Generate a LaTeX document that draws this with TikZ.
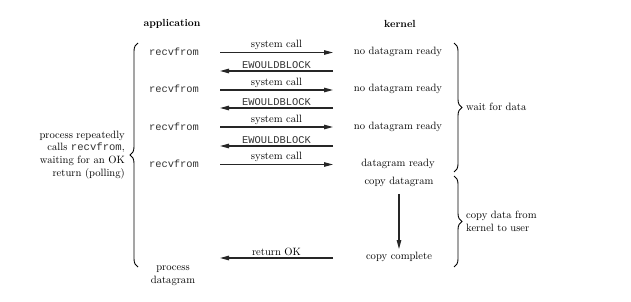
\documentclass[tikz,border=0pt]{standalone}
\usepackage{fontspec}
\setmonofont{Liberation Mono}
\usetikzlibrary{decorations.pathreplacing,arrows.meta}
\begin{document}
\begin{tikzpicture}[x=1pt,y=-1pt,
  txt/.style={font=\fontsize{10.6}{12.8}\selectfont, inner sep=0pt},
  hdr/.style={font=\fontsize{10.3}{12}\selectfont\bfseries, inner sep=0pt},
  code/.style={font=\fontsize{10.4}{12}\selectfont\ttfamily, text=black!80, inner sep=0pt},
  msg/.style={line width=1.1pt, draw=black!85, -{Triangle[length=9pt,width=4.5pt]}},
  brc/.style={decorate, decoration={brace, amplitude=8pt}, line width=0.9pt},
]
\useasboundingbox (0,0) rectangle (631,302);

% column headings
\node[hdr] (app) at (172,24) {application};
\node[hdr] (ker) at (400,24) {kernel};

% application side
\node[code] (r1) at (174,52) {recvfrom};
\node[code] (r2) at (174,89) {recvfrom};
\node[code] (r3) at (174,127) {recvfrom};
\node[code] (r4) at (174,164) {recvfrom};
\node[txt, align=center, font=\fontsize{10.6}{13}\selectfont] (pd) at (173,275.5) {process\\datagram};

% kernel side
\node[txt] (k1) at (398,52) {no datagram ready};
\node[txt] (k2) at (398,89) {no datagram ready};
\node[txt] (k3) at (398,127) {no datagram ready};
\node[txt] (k4) at (398,164) {datagram ready};
\node[txt] (cd) at (399,182) {copy datagram};
\node[txt] (cc) at (399,257) {copy complete};

% message end points
\coordinate (s1a) at (220,52.5);  \coordinate (s1k) at (333,52.5);
\coordinate (e1a) at (220,71);    \coordinate (e1k) at (333,71);
\coordinate (s2a) at (220,90);    \coordinate (s2k) at (333,90);
\coordinate (e2a) at (220,108);   \coordinate (e2k) at (333,108);
\coordinate (s3a) at (220,127);   \coordinate (s3k) at (333,127);
\coordinate (e3a) at (220,146);   \coordinate (e3k) at (333,146);
\coordinate (s4a) at (220,164.5); \coordinate (s4k) at (333,164.5);
\coordinate (oka) at (220,258);   \coordinate (okk) at (333,258);

% messages
\draw[msg] (s1a) -- node[txt, above=2pt] (l1) {system call} (s1k);
\draw[msg] (e1k) -- node[code, above=2pt] (w1) {EWOULDBLOCK} (e1a);
\draw[msg] (s2a) -- node[txt, above=2pt] (l2) {system call} (s2k);
\draw[msg] (e2k) -- node[code, above=2pt] (w2) {EWOULDBLOCK} (e2a);
\draw[msg] (s3a) -- node[txt, above=2pt] (l3) {system call} (s3k);
\draw[msg] (e3k) -- node[code, above=2pt] (w3) {EWOULDBLOCK} (e3a);
\draw[msg] (s4a) -- node[txt, above=2pt] (l4) {system call} (s4k);
\draw[msg] (okk) -- node[txt, above=2pt] (lok) {return OK} (oka);

% copy into user space
\draw[msg] ([yshift=-7pt]cd.south) -- ([yshift=3pt]cc.north);

% braces
\coordinate (b1t) at (454,43);  \coordinate (b1b) at (454,172);
\coordinate (b2t) at (454,176); \coordinate (b2b) at (454,267);
\coordinate (b3t) at (138,43);  \coordinate (b3b) at (138,267);
\draw[brc] (b1t) -- (b1b);
\draw[brc] (b2t) -- (b2b);
\draw[brc] (b3b) -- (b3t);

\node[txt, anchor=west] (wfd) at (466,107) {wait for data};
\node[txt, anchor=west, align=left] (cdk) at (466,221) {copy data from\\kernel to user};
\node[txt, anchor=east, align=right] (poll) at (125,155)
  {process repeatedly\\calls {\ttfamily\color{black!80}recvfrom},\\waiting for an OK\\return (polling)};
\end{tikzpicture}
\end{document}
